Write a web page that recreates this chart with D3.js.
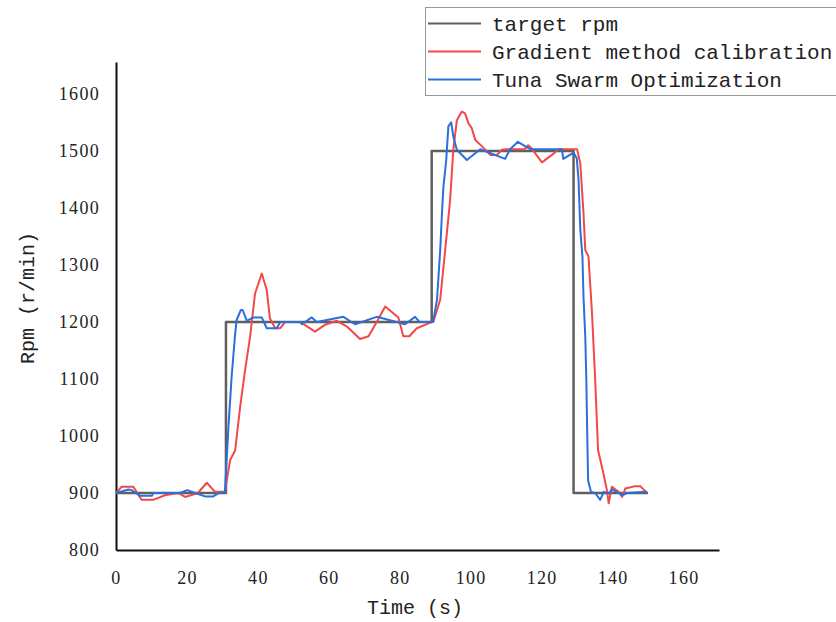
<!DOCTYPE html>
<html>
<head>
<meta charset="utf-8">
<script src="https://cdn.jsdelivr.net/npm/d3@7"></script>
<style>
  body { margin: 0; background: #fff; }
  svg { display: block; }
</style>
</head>
<body>
<svg id="chart"></svg>
<script>
// target speed, step profile
var targetTime = [0, 31, 31, 89, 89, 129, 129, 150];
var targetRpm  = [900, 900, 1200, 1200, 1500, 1500, 900, 900];

// gradient method calibration (red)
var gradTime = [0, 1.6, 4.9, 7.2, 10.5, 13.8, 17.5, 19.5, 23.1, 25.6, 27.9, 30.7, 32.2, 33.6, 35, 36.4, 37.8, 39.2, 41.1, 42.5,
  43.4, 44.9, 46.3, 47.7, 51.9, 56.1, 58.9, 62.3, 65.1, 68.8, 71.2, 73.5, 75.9, 79.6, 81, 82.7, 84.8, 89.5, 91.4, 92.8,
  94.2, 95.1, 96.1, 97.5, 98.4, 99.4, 100.3, 101.3, 103.2, 105.5, 107.4, 108.8, 110, 115.2, 116.2, 117.1, 120.1, 122.9, 124.8, 129.5,
  130, 130.9, 131.8, 132.3, 133.2, 134.2, 135.1, 135.9, 137, 138.4, 138.9, 139.8, 141.7, 142.7, 143.6, 146.4, 147.8, 149.7];
var gradRpm = [900, 911, 911, 888, 888, 896, 900, 893, 900, 918, 902, 902, 958, 975, 1051, 1116, 1174, 1250, 1285, 1256,
  1206, 1189, 1189, 1200, 1200, 1183, 1195, 1202, 1192, 1170, 1175, 1200, 1227, 1208, 1175, 1175, 1189, 1201, 1239, 1326,
  1414, 1502, 1554, 1569, 1566, 1548, 1540, 1519, 1508, 1493, 1493, 1502, 1503, 1503, 1510, 1505, 1480, 1493, 1503, 1503,
  1503, 1478, 1391, 1326, 1315, 1215, 1098, 975, 946, 905, 882, 911, 902, 893, 908, 912, 912, 900];

// tuna swarm optimization (blue)
var tunaTime = [0, 3.5, 4.4, 6.8, 10.1, 10.5, 18, 20.1, 22.3, 25.1, 27.4, 29.3, 30.7, 31.7, 32.6, 33.6, 34, 35.2, 35.7, 36.9,
  38.7, 41.1, 42.5, 45.3, 46.3, 51.9, 52.4, 55.2, 56.6, 64.1, 67.4, 73.5, 81.5, 84.3, 85.6, 89.4, 90.5, 91.4, 91.9, 92.3,
  93.1, 93.7, 94.5, 95.1, 96.1, 98.9, 102.7, 109.7, 111.1, 113.3, 115.4, 116.8, 125.7, 126.1, 129, 129.9, 130.4, 130.9, 131.5, 131.8,
  132.3, 132.6, 132.8, 133.1, 133.9, 135.1, 136.5, 137.5, 138.9, 139.8, 141.2, 142.7, 144.1, 149.7];
var tunaRpm = [900, 906, 905, 895, 895, 900, 900, 905, 900, 894, 894, 901, 901, 1016, 1104, 1180, 1203, 1221, 1221, 1202,
  1208, 1208, 1189, 1189, 1200, 1200, 1196, 1208, 1200, 1209, 1196, 1209, 1196, 1209, 1200, 1200, 1239, 1326, 1391, 1437,
  1484, 1543, 1550, 1525, 1502, 1484, 1503, 1486, 1503, 1516, 1508, 1503, 1503, 1486, 1497, 1487, 1449, 1361, 1315, 1244,
  1174, 1098, 1022, 922, 902, 900, 888, 902, 899, 906, 902, 896, 900, 902];

var xTicks = [0, 20, 40, 60, 80, 100, 120, 140, 160];
var yTicks = [800, 900, 1000, 1100, 1200, 1300, 1400, 1500, 1600];
var legendLabels = ["target rpm", "Gradient method calibration", "Tuna Swarm Optimization"];
var legendColors = ["#5f5f5f", "#f24848", "#2a6fdc"];

var width = 836, height = 622;
var svg = d3.select("#chart").attr("width", width).attr("height", height);

var x = d3.scaleLinear().domain([0, 170]).range([116, 719]);
var y = d3.scaleLinear().domain([800, 1656]).range([550, 62]);

var monoFont = "'Liberation Mono', 'DejaVu Sans Mono', monospace";
var serifFont = "'Liberation Serif', 'DejaVu Serif', serif";

// axes
var yAxis = svg.append("g")
    .attr("transform", "translate(" + x(0) + ",0)")
    .call(d3.axisLeft(y).tickValues(yTicks).tickSize(0).tickPadding(16).tickFormat(d3.format("d")));

var xAxis = svg.append("g")
    .attr("transform", "translate(0," + y(800) + ")")
    .call(d3.axisBottom(x).tickValues(xTicks).tickSize(0).tickPadding(21).tickFormat(d3.format("d")));

[xAxis, yAxis].forEach(function(a){
  a.select(".domain").attr("stroke", "#111").attr("stroke-width", 2);
  a.selectAll("text")
    .style("font-family", serifFont)
    .style("font-size", "18px")
    .style("letter-spacing", "1.3px")
    .attr("fill", "#222");
});

// axis titles
svg.append("text")
    .attr("x", 415)
    .attr("y", 614)
    .attr("text-anchor", "middle")
    .style("font-family", monoFont)
    .style("font-size", "20px")
    .attr("fill", "#222")
    .text("Time (s)");

svg.append("text")
    .attr("transform", "translate(34,298) rotate(-90)")
    .attr("text-anchor", "middle")
    .style("font-family", monoFont)
    .style("font-size", "20px")
    .attr("fill", "#222")
    .text("Rpm (r/min)");

// lines
var line = d3.line()
    .x(function(d){ return x(d[0]); })
    .y(function(d){ return y(d[1]); });

var series = [
  {t: targetTime, v: targetRpm, color: legendColors[0], w: 2.5},
  {t: gradTime, v: gradRpm, color: legendColors[1], w: 2},
  {t: tunaTime, v: tunaRpm, color: legendColors[2], w: 2}
];

series.forEach(function(s){
  var pts = s.t.map(function(t, i){ return [t, s.v[i]]; });
  svg.append("path")
    .datum(pts)
    .attr("d", line)
    .attr("fill", "none")
    .attr("stroke", s.color)
    .attr("stroke-width", s.w)
    .attr("stroke-linejoin", "round");
});

// legend
var legend = svg.append("g");
legend.append("rect")
    .attr("x", 425.5)
    .attr("y", 7.5)
    .attr("width", 430)
    .attr("height", 88)
    .attr("fill", "#fff")
    .attr("stroke", "#999")
    .attr("stroke-width", 1);

legendLabels.forEach(function(lbl, i){
  var ly = 23.5 + i * 28;
  legend.append("line")
    .attr("x1", 428).attr("x2", 481)
    .attr("y1", ly).attr("y2", ly)
    .attr("stroke", legendColors[i])
    .attr("stroke-width", 2);
  legend.append("text")
    .attr("x", 492)
    .attr("y", ly)
    .attr("dy", "0.35em")
    .style("font-family", monoFont)
    .style("font-size", "21px")
    .attr("fill", "#222")
    .text(lbl);
});
</script>
</body>
</html>
